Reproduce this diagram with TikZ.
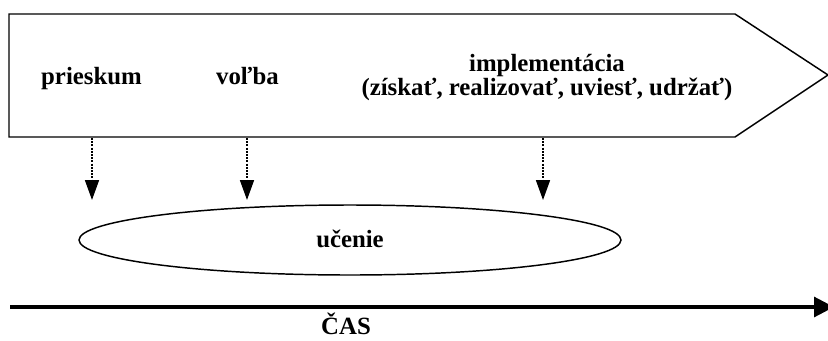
\documentclass[tikz,border=0pt]{standalone}
\usepackage{fontspec}
\setmainfont{Liberation Serif}
\usetikzlibrary{arrows.meta}
% let stacked label lines keep their set baseline distance
\newcommand\tightlines{\lineskiplimit=-20pt\relax}
\begin{document}
\begin{tikzpicture}[x=0.75pt,y=-0.75pt,
  lbl/.style={font=\fontsize{18.6}{17.3}\selectfont\bfseries\tightlines, inner sep=0pt, align=center, anchor=base},
  flow/.style={line width=1.3pt, dash pattern=on 1.5pt off 0.9pt, -{Triangle[length=15pt,width=10.5pt,sep=0pt]}},
  outline/.style={draw, line width=1.1pt}]
  \useasboundingbox (0,0) rectangle (828,340);
  % process band drawn as a pointed banner
  \draw[outline, line join=miter] (9,14) -- (735,14) -- (828,75) -- (735,137) -- (9,137) -- cycle;
  \node[lbl] (prieskum) at (91.5,84) {prieskum};
  \node[lbl] (volba) at (247.5,84) {voľba};
  \node[lbl] (impl) at (547,95) {implementácia\\(získať, realizovať, uviesť, udržať)};
  % drop points on the lower edge of the band and arrow tips above the ellipse
  \coordinate (s1) at (92,138);
  \coordinate (s2) at (247,138);
  \coordinate (s3) at (543,138);
  \coordinate (t1) at (92,200);
  \coordinate (t2) at (247,200);
  \coordinate (t3) at (543,200);
  \draw[flow] (s1) -- (t1);
  \draw[flow] (s2) -- (t2);
  \draw[flow] (s3) -- (t3);
  % learning ellipse
  \draw[outline] (350,240) ellipse [x radius=271, y radius=35];
  \node[lbl] (ucenie) at (350,247) {učenie};
  % time axis
  \coordinate (t0) at (10,307);
  \coordinate (tend) at (834,307);
  \draw[line width=2.3pt, -{Triangle[length=15pt,width=15pt]}] (t0) -- (tend);
  \node[lbl] (cas) at (346,334) {ČAS};
\end{tikzpicture}
\end{document}
